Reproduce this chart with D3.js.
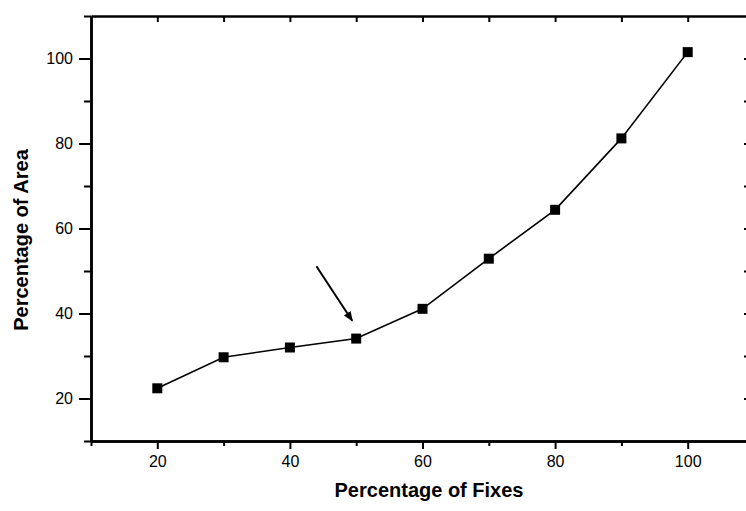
<!DOCTYPE html>
<html><head><meta charset="utf-8">
<script src="https://cdn.jsdelivr.net/npm/d3@7"></script>
<style>body{margin:0;background:#fff}svg{display:block}</style>
</head><body>
<svg id="c" width="746" height="511"></svg>
<script>
const fixes = [20, 30, 40, 50, 60, 70, 80, 90, 100];
const area = [22.4, 29.7, 32, 34.1, 41.1, 52.9, 64.4, 81.2, 101.5];
const xTicks = [20, 40, 60, 80, 100];
const yTicks = [20, 40, 60, 80, 100];
const xMinor = [10, 30, 50, 70, 90, 110];
const yMinor = [10, 30, 50, 70, 90, 110];
const arrowFrom = [44.0, 51.1];
const arrowTo = [49.4, 38.3];

const svg = d3.select("#c");
const x = d3.scaleLinear().domain([10, 110]).range([91, 754]);
const y = d3.scaleLinear().domain([10, 110]).range([441, 16]);
const font = "Arial, 'Liberation Sans', sans-serif";

svg.append("defs").append("marker").attr("id","ah")
  .attr("viewBox","0 0 10 10").attr("refX",9).attr("refY",5)
  .attr("markerWidth",5).attr("markerHeight",5).attr("orient","auto")
  .append("path").attr("d","M0,1 L10,5 L0,9 Z").attr("fill","#000");

// bottom axis
const gb = svg.append("g").attr("transform",`translate(0,${y(10)})`)
  .call(d3.axisBottom(x).tickValues(xTicks).tickSize(8).tickSizeOuter(0).tickPadding(7));
const gbm = svg.append("g").attr("transform",`translate(0,${y(10)})`)
  .call(d3.axisBottom(x).tickValues(xMinor).tickSize(5).tickFormat("").tickSizeOuter(0));
// left axis
const gl = svg.append("g").attr("transform",`translate(${x(10)},0)`)
  .call(d3.axisLeft(y).tickValues(yTicks).tickSize(12).tickSizeOuter(0).tickPadding(6));
const glm = svg.append("g").attr("transform",`translate(${x(10)},0)`)
  .call(d3.axisLeft(y).tickValues(yMinor).tickSize(7).tickFormat("").tickSizeOuter(0));
// top axis, inward ticks
const gt = svg.append("g").attr("transform",`translate(0,${y(110)})`)
  .call(d3.axisBottom(x).tickValues(d3.range(20,110,10)).tickSize(6).tickFormat("").tickSizeOuter(0));
// right axis, inward ticks
const gr = svg.append("g").attr("transform",`translate(${x(110)},0)`)
  .call(d3.axisLeft(y).tickValues(d3.range(20,110,10)).tickSize(10).tickFormat("").tickSizeOuter(0));

[gb,gbm,gl,glm,gt,gr].forEach(g=>{
  g.attr("font-size",16).attr("font-family",font);
  g.select(".domain").attr("stroke","#000").attr("stroke-width",2.5);
  g.selectAll(".tick line").attr("stroke","#000").attr("stroke-width",2);
  g.selectAll("text").attr("font-family",font).attr("font-size",16).attr("fill","#000");
});

// line
svg.append("path").datum(fixes.map((f,i)=>[f,area[i]]))
  .attr("fill","none").attr("stroke","#000").attr("stroke-width",1.6)
  .attr("d", d3.line().x(d=>x(d[0])).y(d=>y(d[1])));
svg.selectAll("rect.pt").data(fixes).enter().append("rect").attr("class","pt")
  .attr("x",(d)=>x(d)-5).attr("y",(d,i)=>y(area[i])-5)
  .attr("width",10).attr("height",10).attr("fill","#000");

// arrow
svg.append("line")
  .attr("x1",x(arrowFrom[0])).attr("y1",y(arrowFrom[1]))
  .attr("x2",x(arrowTo[0])).attr("y2",y(arrowTo[1]))
  .attr("stroke","#000").attr("stroke-width",2).attr("marker-end","url(#ah)");

// titles
svg.append("text").attr("x",429).attr("y",497).attr("text-anchor","middle")
  .attr("font-family",font).attr("font-size",20).attr("font-weight","bold")
  .text("Percentage of Fixes");
svg.append("text").attr("transform","translate(28,240) rotate(-90)").attr("text-anchor","middle")
  .attr("font-family",font).attr("font-size",20).attr("font-weight","bold")
  .text("Percentage of Area");
</script>
</body></html>
